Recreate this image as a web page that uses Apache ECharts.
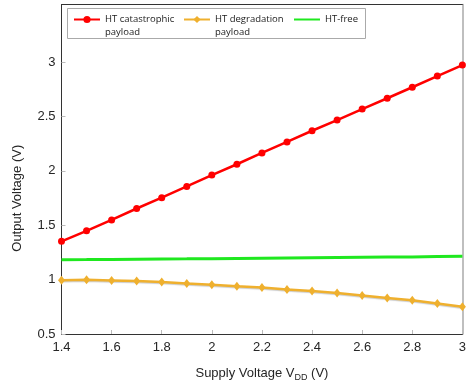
<!DOCTYPE html>
<html>
<head>
<meta charset="utf-8">
<script src="https://cdn.jsdelivr.net/npm/echarts@6/dist/echarts.min.js"></script>
<style>
  html, body { margin: 0; padding: 0; background: #fff; }
  #main { width: 469px; height: 387px; }
</style>
</head>
<body>
<div id="main"></div>
<script>
var chartDom = document.getElementById("main");
var myChart = echarts.init(chartDom);

// supply voltage VDD (V)
var vdd = [1.4, 1.5, 1.6, 1.7, 1.8, 1.9, 2.0, 2.1, 2.2, 2.3, 2.4, 2.5, 2.6, 2.7, 2.8, 2.9, 3.0];
// output voltage (V)
var catastrophic = [1.352, 1.449, 1.549, 1.654, 1.754, 1.857, 1.961, 2.061, 2.165, 2.266, 2.369, 2.467, 2.568, 2.668, 2.769, 2.872, 2.973];
var degradation = [0.995, 0.998, 0.993, 0.987, 0.979, 0.965, 0.953, 0.94, 0.928, 0.91, 0.895, 0.877, 0.855, 0.832, 0.81, 0.78, 0.75];
var htFree = [1.183, 1.184, 1.186, 1.188, 1.19, 1.191, 1.193, 1.195, 1.197, 1.199, 1.201, 1.203, 1.205, 1.207, 1.209, 1.212, 1.215];
var yTicks = [0.5, 1, 1.5, 2, 2.5, 3];
var names = ["HT catastrophic\npayload", "HT degradation\npayload", "HT-free"];

function pairs(ys) {
  return vdd.map(function (x, i) {
    return [x, ys[i]];
  });
}

var labelFont = {
  color: "#262626",
  fontSize: 13,
  fontFamily: "Liberation Sans",
};

var option = {
  animation: false,
  grid: {
    left: 61.5,
    right: 3.5,
    top: 4.5,
    bottom: 50.5,
  },
  // legend frame (the legend itself is drawn without border)
  graphic: [
    {
      type: "rect",
      z: 3,
      shape: { x: 67.5, y: 8.5, width: 298, height: 30 },
      style: { fill: "#fff", stroke: "#aaa", lineWidth: 1 },
    },
  ],
  legend: {
    left: 73,
    top: 0,
    orient: "horizontal",
    itemWidth: 26,
    itemHeight: 9,
    itemGap: 5,
    padding: 0,
    z: 4,
    // blank first line so the first text line sits level with the icon
    formatter: function (name) {
      return name.indexOf("\n") >= 0 ? " \n" + name : name;
    },
    textStyle: {
      color: "#1a1a1a",
      fontSize: 9.5,
      fontFamily: "Open Sans",
      lineHeight: 13,
      width: 73,
    },
    data: [
      { name: names[0] },
      { name: names[1] },
      { name: names[2], itemStyle: { color: "rgba(0,0,0,0)", borderWidth: 0 } },
    ],
  },
  xAxis: [
    {
      type: "value",
      min: 1.4,
      max: 3,
      interval: 0.2,
      name: "Supply Voltage V{sub|DD} (V)",
      nameLocation: "middle",
      nameGap: 31,
      nameTextStyle: {
        color: "#262626",
        fontSize: 13,
        fontFamily: "Liberation Sans",
        rich: {
          sub: {
            fontSize: 9,
            fontFamily: "Liberation Sans",
            color: "#262626",
            padding: [8, 0, 0, 0],
          },
        },
      },
      axisLine: { lineStyle: { color: "#333", width: 1 } },
      axisTick: { inside: true, length: 4, lineStyle: { color: "#bbb" } },
      axisLabel: Object.assign({ margin: 7 }, labelFont),
      splitLine: { show: false },
    },
    {
      type: "value",
      position: "top",
      min: 1.4,
      max: 3,
      axisLine: { show: true, lineStyle: { color: "#333", width: 1 } },
      axisTick: { show: false },
      axisLabel: { show: false },
      splitLine: { show: false },
    },
  ],
  yAxis: [
    {
      type: "value",
      min: 0.5,
      max: 3.53,
      interval: 0.5,
      name: "Output Voltage (V)",
      nameLocation: "middle",
      nameGap: 38,
      nameTextStyle: {
        color: "#262626",
        fontSize: 13,
        fontFamily: "Liberation Sans",
        padding: [0, 58, 0, 0],
      },
      axisLine: { show: true, lineStyle: { color: "#333", width: 1 } },
      axisTick: {
        inside: true,
        length: 4,
        customValues: yTicks,
        lineStyle: { color: "#bbb" },
      },
      axisLabel: Object.assign({ margin: 6, customValues: yTicks }, labelFont),
      splitLine: { show: false },
    },
    {
      type: "value",
      position: "right",
      min: 0.5,
      max: 3.53,
      axisLine: { show: true, lineStyle: { color: "#aaa", width: 1.5 } },
      axisTick: { show: false },
      axisLabel: { show: false },
      splitLine: { show: false },
    },
  ],
  series: [
    {
      name: names[0],
      type: "line",
      data: pairs(catastrophic),
      symbol: "circle",
      symbolSize: 7,
      color: "#ff0000",
      lineStyle: { width: 2.5, color: "#ff0000" },
      itemStyle: { color: "#ff0000" },
      z: 3,
    },
    {
      name: names[1],
      type: "line",
      data: pairs(degradation),
      symbol: "diamond",
      symbolSize: [7, 9],
      color: "#efb02e",
      lineStyle: {
        width: 2.5,
        color: "#efb02e",
        shadowColor: "rgba(0,0,0,0.2)",
        shadowBlur: 1,
        shadowOffsetY: 1,
      },
      itemStyle: { color: "#efb02e" },
      z: 2,
    },
    {
      name: names[2],
      type: "line",
      data: pairs(htFree),
      symbol: "none",
      color: "#1fe81f",
      lineStyle: { width: 3, color: "#1fe81f" },
      z: 2,
    },
  ],
};

option && myChart.setOption(option);
</script>
</body>
</html>
